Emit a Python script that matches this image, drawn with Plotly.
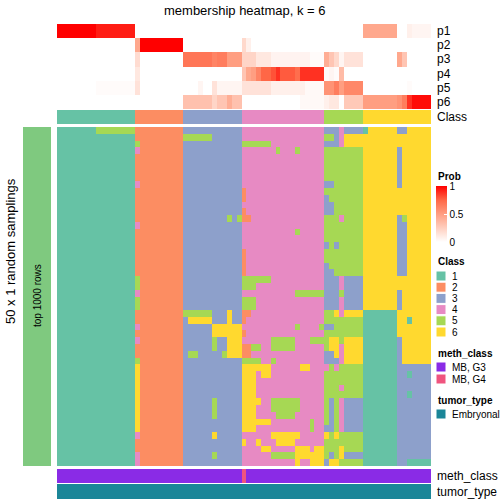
import plotly.graph_objects as go

# ---------------- data ----------------
N_COLS = 77
N_SAMPLINGS = 50
CLASS_LABELS = ["1", "2", "3", "4", "5", "6"]
CLASS_COLORS = ["#66C2A5", "#FC8D62", "#8DA0CB", "#E78AC3", "#A6D854", "#FFD92F"]
# consensus class of each column, as (class, number of columns)
CLASS_RUNS = [(1, 16), (2, 10), (3, 12), (4, 17), (5, 8), (6, 14)]

PROB_ROWS = ["p1", "p2", "p3", "p4", "p5", "p6"]
# membership probabilities, run-length encoded (value, number of columns)
P1_RUNS = [(1.0, 8), (0.93, 8), (0.0, 47), (0.45, 7), (0.0, 2), (0.08, 1), (0.05, 4)]
P2_RUNS = [(0.0, 16), (0.45, 1), (1.0, 9), (0.0, 12), (0.2, 1), (0.08, 1), (0.0, 37)]
P3_RUNS = [(0.0, 16), (0.18, 1), (0.0, 9), (0.68, 6), (0.62, 1), (0.65, 2), (0.5, 3),
           (0.22, 3), (0.12, 3), (0.06, 8), (0.02, 3), (0.42, 1), (0.3, 1), (0.2, 1),
           (0.05, 1), (0.15, 4), (0.0, 7), (0.45, 1), (0.3, 1), (0.0, 5)]
P4_RUNS = [(0.0, 16), (0.12, 1), (0.0, 21), (0.3, 1), (0.45, 1), (0.5, 1), (0.62, 1),
           (0.75, 2), (0.8, 1), (0.88, 1), (0.78, 3), (0.72, 1), (0.88, 5), (0.02, 1),
           (0.05, 1), (0.02, 1), (0.35, 1), (0.0, 18)]
P5_RUNS = [(0.0, 8), (0.02, 8), (0.15, 1), (0.0, 9), (0.0, 3), (0.05, 1), (0.0, 2),
           (0.15, 1), (0.05, 5), (0.15, 6), (0.08, 7), (0.03, 4), (0.55, 2), (0.65, 1),
           (0.5, 1), (0.6, 4), (0.0, 9), (0.02, 1), (0.0, 4)]
P6_RUNS = [(0.0, 26), (0.32, 6), (0.22, 1), (0.3, 2), (0.42, 1), (0.32, 2), (0.0, 12),
           (0.03, 5), (0.08, 1), (0.12, 2), (0.0, 1), (0.28, 4), (0.5, 7), (0.55, 1),
           (0.65, 1), (0.88, 1), (0.97, 4)]

# class calls of each random sampling that differ from the consensus:
# (first row, last row, first column, last column, class)
PATCHES = [
    (0, 0, 8, 15, 5), (0, 0, 55, 57, 3), (0, 0, 58, 58, 4), (0, 0, 59, 62, 3),
    (0, 0, 63, 63, 1), (0, 0, 70, 71, 3),
    (1, 1, 26, 31, 5), (1, 1, 57, 57, 3), (1, 1, 58, 58, 4), (1, 1, 59, 62, 6),
    (2, 2, 16, 16, 5), (2, 2, 38, 43, 5), (2, 2, 55, 57, 3), (2, 2, 58, 58, 4),
    (2, 2, 59, 62, 6),
    (3, 3, 16, 16, 4), (3, 3, 45, 45, 5), (3, 3, 49, 49, 5), (3, 8, 70, 70, 3),
    (8, 8, 16, 16, 4), (8, 8, 55, 56, 3),
    (9, 10, 38, 38, 2), (10, 10, 55, 55, 3), (11, 12, 55, 56, 3), (12, 12, 38, 38, 2),
    (13, 13, 35, 35, 5), (13, 13, 37, 37, 5), (13, 13, 38, 39, 2), (13, 13, 58, 58, 4),
    (13, 13, 70, 70, 3), (13, 13, 71, 71, 5),
    (14, 14, 16, 16, 4), (14, 21, 70, 71, 3), (15, 15, 49, 49, 5),
    (17, 17, 55, 55, 3), (17, 17, 57, 57, 3),
    (18, 21, 38, 38, 2), (20, 21, 55, 55, 3), (21, 21, 56, 56, 3),
    (22, 23, 16, 16, 5), (22, 22, 38, 43, 5), (23, 23, 38, 40, 5),
    (22, 26, 55, 57, 3), (22, 23, 58, 58, 4), (25, 26, 58, 58, 4), (22, 26, 59, 62, 3),
    (24, 24, 16, 16, 4), (24, 24, 49, 54, 5), (24, 26, 70, 70, 3),
    (25, 26, 16, 16, 5), (25, 26, 38, 40, 5),
    (27, 27, 26, 31, 5), (27, 27, 35, 35, 6), (27, 27, 38, 39, 2), (27, 27, 57, 57, 6),
    (27, 27, 58, 58, 4), (27, 27, 59, 62, 6), (27, 49, 63, 69, 1),
    (28, 28, 27, 31, 6), (28, 28, 35, 35, 6), (28, 28, 38, 38, 2), (28, 28, 72, 72, 1),
    (29, 30, 32, 37, 6), (29, 29, 16, 16, 4), (29, 29, 49, 49, 5), (29, 29, 54, 54, 5),
    (29, 29, 55, 56, 3), (30, 30, 38, 38, 2),
    (31, 31, 16, 16, 4), (31, 32, 32, 32, 5), (31, 33, 35, 37, 6), (31, 32, 44, 48, 5),
    (31, 31, 52, 54, 5), (31, 33, 56, 57, 6), (32, 34, 58, 58, 4), (31, 34, 59, 62, 6),
    (33, 33, 55, 56, 3), (34, 34, 55, 57, 3), (31, 34, 70, 70, 3),
    (32, 33, 38, 39, 2), (32, 32, 40, 41, 5), (33, 33, 27, 28, 5), (33, 33, 34, 34, 5),
    (34, 34, 16, 16, 5), (34, 34, 38, 41, 5), (34, 34, 44, 44, 5),
    (35, 44, 16, 16, 6), (35, 35, 38, 43, 6), (35, 35, 50, 51, 6), (35, 35, 55, 55, 4),
    (35, 35, 57, 57, 4), (35, 49, 70, 76, 3),
    (36, 36, 38, 40, 6), (36, 36, 42, 43, 6), (37, 39, 38, 40, 6), (38, 38, 58, 58, 4),
    (36, 36, 72, 72, 1), (39, 39, 72, 72, 1),
    (40, 40, 38, 41, 6), (40, 41, 44, 49, 5), (40, 42, 32, 32, 5), (41, 42, 38, 40, 6),
    (42, 42, 45, 48, 5), (43, 43, 38, 43, 6), (44, 44, 38, 40, 6), (43, 44, 52, 52, 5),
    (40, 44, 56, 56, 3), (40, 44, 58, 58, 4), (40, 44, 59, 62, 3), (44, 44, 55, 55, 3),
    (45, 45, 16, 16, 4), (45, 45, 32, 32, 6), (45, 45, 44, 49, 6), (45, 45, 55, 55, 6),
    (45, 45, 57, 57, 6),
    (46, 46, 38, 38, 6), (46, 46, 41, 41, 6), (46, 46, 45, 48, 6),
    (47, 47, 42, 43, 6), (47, 47, 49, 51, 6), (47, 47, 53, 54, 6), (47, 47, 58, 58, 6),
    (48, 49, 16, 16, 4), (48, 48, 32, 32, 5), (48, 48, 44, 48, 5), (48, 48, 49, 54, 6),
    (48, 48, 56, 56, 3), (48, 48, 58, 58, 6), (48, 48, 59, 62, 3),
    (49, 49, 49, 49, 6), (49, 49, 52, 54, 6), (49, 49, 55, 55, 3), (49, 49, 56, 57, 6),
    (49, 49, 72, 76, 1),
]

METH_LABELS = ["MB, G3", "MB, G4"]
METH_COLORS = ["#8A2BE6", "#F0547F"]
METH_RUNS = [("MB, G3", 38), ("MB, G4", 1), ("MB, G3", 38)]
TUMOR_LABELS = ["Embryonal"]
TUMOR_COLORS = ["#1B8698"]
TUMOR_RUNS = [("Embryonal", 77)]

TITLE = "membership heatmap, k = 6"
ROW_TITLE = "50 x 1 random samplings"
ROW_GROUP = "top 1000 rows"
GROUP_COLOR = "#7FC97F"


def expand(runs):
    out = []
    for v, n in runs:
        out += [v] * n
    return out


class_vec = expand(CLASS_RUNS)
prob = [expand(r) for r in (P1_RUNS, P2_RUNS, P3_RUNS, P4_RUNS, P5_RUNS, P6_RUNS)]
mat = [list(class_vec) for _ in range(N_SAMPLINGS)]
for r0, r1, c0, c1, k in PATCHES:
    for r in range(r0, r1 + 1):
        for c in range(c0, c1 + 1):
            mat[r][c] = k
meth = [METH_LABELS.index(v) + 1 for v in expand(METH_RUNS)]
tumor = [TUMOR_LABELS.index(v) + 1 for v in expand(TUMOR_RUNS)]


def stepped(colors):
    n = len(colors)
    cs = []
    for i, col in enumerate(colors):
        cs.append([i / n, col])
        cs.append([(i + 1) / n, col])
    return cs


W = H = 504
FONT = "Liberation Sans, Arial, Helvetica, sans-serif"


def py(y):
    return 1 - y / H


def px(x):
    return x / W


xs = list(range(N_COLS))
fig = go.Figure()

prob_scale = [[0, "#FFFFFF"], [0.25, "#FFCFBF"], [0.5, "#FF9E81"], [0.75, "#FF6746"], [1, "#FF0000"]]
fig.add_trace(go.Heatmap(
    z=prob, x=xs, y=list(range(6)), zmin=0, zmax=1, colorscale=prob_scale,
    xaxis="x", yaxis="y", hoverinfo="skip",
    colorbar=dict(x=px(436), xanchor="left", y=py(186), yanchor="top",
                  len=56 / H, lenmode="fraction", thickness=11, thicknessmode="pixels",
                  xpad=0, ypad=0, outlinewidth=0, tickvals=[0, 0.5, 1],
                  ticktext=["0", "0.5", "1"], ticks="inside", ticklen=3,
                  tickcolor="white", tickfont=dict(size=10, family=FONT, color="black")),
))
fig.add_trace(go.Heatmap(
    z=[class_vec], x=xs, y=[0], zmin=0.5, zmax=6.5, colorscale=stepped(CLASS_COLORS),
    showscale=False, xaxis="x", yaxis="y2", hoverinfo="skip"))
fig.add_trace(go.Heatmap(
    z=mat, x=xs, y=list(range(N_SAMPLINGS)), zmin=0.5, zmax=6.5,
    colorscale=stepped(CLASS_COLORS), showscale=False, xaxis="x", yaxis="y3",
    hoverinfo="skip"))
fig.add_trace(go.Heatmap(
    z=[meth], x=xs, y=[0], zmin=0.5, zmax=2.5, colorscale=stepped(METH_COLORS),
    showscale=False, xaxis="x", yaxis="y4", hoverinfo="skip"))
fig.add_trace(go.Heatmap(
    z=[tumor], x=xs, y=[0], zmin=0.5, zmax=1.5, colorscale=stepped(TUMOR_COLORS),
    showscale=False, xaxis="x", yaxis="y5", hoverinfo="skip"))

hidden = dict(showgrid=False, zeroline=False, showticklabels=False, ticks="", showline=False)
fig.update_layout(
    width=W, height=H, autosize=False, margin=dict(l=0, r=0, t=0, b=0),
    paper_bgcolor="white", plot_bgcolor="white", showlegend=False,
    font=dict(family=FONT, color="black"),
    xaxis=dict(domain=[px(57), px(431)], range=[-0.5, N_COLS - 0.5], **hidden),
    yaxis=dict(domain=[py(109), py(24)], range=[5.5, -0.5], **hidden),
    yaxis2=dict(domain=[py(124), py(110)], range=[0.5, -0.5], **hidden),
    yaxis3=dict(domain=[py(466), py(127)], range=[N_SAMPLINGS - 0.5, -0.5], **hidden),
    yaxis4=dict(domain=[py(483), py(469)], range=[0.5, -0.5], **hidden),
    yaxis5=dict(domain=[py(499), py(484)], range=[0.5, -0.5], **hidden),
)

shapes = []
ann = []


def text(x, y, s, size=12, anchor="left", bold=False, angle=0):
    ann.append(dict(x=px(x), y=py(y), xref="paper", yref="paper", text=f"<b>{s}</b>" if bold else s,
                    showarrow=False, xanchor=anchor, yanchor="middle", textangle=angle,
                    font=dict(size=size, family=FONT, color="black")))


# left group bar
shapes.append(dict(type="rect", xref="paper", yref="paper", x0=px(23), x1=px(51),
                   y0=py(466), y1=py(127), fillcolor=GROUP_COLOR, line=dict(width=0)))
text(37, 296, ROW_GROUP, size=10, anchor="center", angle=-90)
text(10, 251, ROW_TITLE, size=13, anchor="center", angle=-90)
text(245, 10, TITLE, size=13, anchor="center")

for i, name in enumerate(PROB_ROWS):
    text(435, 31 + i * 14.2, name, size=12)
text(435, 117, "Class", size=12)
text(435, 476, "meth_class", size=12)
text(435, 492, "tumor_type", size=12)

# legends
text(436, 176, "Prob", size=10, bold=True)
text(436, 261, "Class", size=10, bold=True)
for i, (lab, col) in enumerate(zip(CLASS_LABELS, CLASS_COLORS)):
    yc = 276 + i * 11.2
    shapes.append(dict(type="rect", xref="paper", yref="paper", x0=px(436), x1=px(446),
                       y0=py(yc + 5), y1=py(yc - 5), fillcolor=col,
                       line=dict(width=1, color="white")))
    text(450, yc, lab, size=10)
text(436, 353, "meth_class", size=10, bold=True)
for i, (lab, col) in enumerate(zip(METH_LABELS, METH_COLORS)):
    yc = 367 + i * 12
    shapes.append(dict(type="rect", xref="paper", yref="paper", x0=px(436), x1=px(446),
                       y0=py(yc + 5), y1=py(yc - 5), fillcolor=col,
                       line=dict(width=1, color="white")))
    text(450, yc, lab, size=10)
text(436, 400, "tumor_type", size=10, bold=True)
for i, (lab, col) in enumerate(zip(TUMOR_LABELS, TUMOR_COLORS)):
    yc = 414 + i * 12
    shapes.append(dict(type="rect", xref="paper", yref="paper", x0=px(436), x1=px(446),
                       y0=py(yc + 5), y1=py(yc - 5), fillcolor=col,
                       line=dict(width=1, color="white")))
    text(450, yc, lab, size=10)

fig.update_layout(shapes=shapes, annotations=ann)
fig.write_html("out.html", config={"displayModeBar": False},
               post_script="document.body.style.margin='0px';document.body.style.padding='0px';")
